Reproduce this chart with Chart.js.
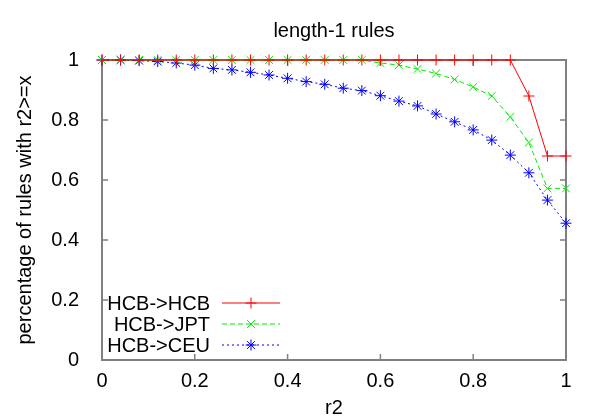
<!DOCTYPE html>
<html>
<head>
<meta charset="utf-8">
<script src="https://cdn.jsdelivr.net/npm/chart.js"></script>
<style>
  html, body { margin: 0; padding: 0; background: #fff; }
  #wrap { width: 600px; height: 420px; }
</style>
</head>
<body>
<div id="wrap"><canvas id="rulesChart" width="600" height="420"></canvas></div>
<script>
// values
const r2Values = [0, 0.04, 0.08, 0.12, 0.16, 0.2, 0.24, 0.28, 0.32, 0.36, 0.4, 0.44, 0.48,
  0.52, 0.56, 0.6, 0.64, 0.68, 0.72, 0.76, 0.8, 0.84, 0.88, 0.92, 0.96, 1];
const hcbHcb = [1, 1, 1, 1, 1, 1, 1, 1, 1, 1, 1, 1, 1, 1, 1, 1, 1, 1, 1, 1, 1, 1, 1,
  0.88, 0.68, 0.68];
const hcbJpt = [1, 1, 1, 1, 1, 1, 1, 1, 1, 1, 1, 1, 1, 1, 1, 0.99, 0.983, 0.97, 0.955,
  0.935, 0.91, 0.88, 0.81, 0.725, 0.572, 0.572];
const hcbCeu = [1, 1, 0.998, 0.995, 0.99, 0.983, 0.972, 0.967, 0.959, 0.95, 0.939, 0.928,
  0.919, 0.906, 0.898, 0.881, 0.863, 0.847, 0.82, 0.794, 0.767, 0.733, 0.683, 0.624,
  0.533, 0.456];
const seriesNames = ["HCB->HCB", "HCB->JPT", "HCB->CEU"];
const yTicks = [0, 0.2, 0.4, 0.6, 0.8, 1];
const xTicks = [0, 0.2, 0.4, 0.6, 0.8, 1];

const FONT = "'Liberation Sans', Arial, Helvetica, sans-serif";
const FONT_SIZE = 20;
const AXIS_GRAY = "#808080";

function toPoints(ys) {
  return ys.map((y, i) => ({ x: r2Values[i], y: y }));
}

// gnuplot style frame with inward ticks on all four sides
const framePlugin = {
  id: "frame",
  beforeDatasetsDraw(chart) {
    const { ctx, chartArea: a, scales } = chart;
    ctx.save();
    ctx.strokeStyle = AXIS_GRAY;
    ctx.lineWidth = 1.5;
    const len = 6;
    ctx.beginPath();
    xTicks.forEach((v) => {
      const px = scales.x.getPixelForValue(v);
      ctx.moveTo(px, a.bottom);
      ctx.lineTo(px, a.bottom - len);
      ctx.moveTo(px, a.top);
      ctx.lineTo(px, a.top + len);
    });
    yTicks.forEach((v) => {
      const py = scales.y.getPixelForValue(v);
      ctx.moveTo(a.left, py);
      ctx.lineTo(a.left + len, py);
      ctx.moveTo(a.right, py);
      ctx.lineTo(a.right - len, py);
    });
    ctx.stroke();
    ctx.lineWidth = 2;
    ctx.strokeRect(a.left, a.top, a.right - a.left, a.bottom - a.top);
    ctx.restore();
  },
};

// title centred over the plot area
const titlePlugin = {
  id: "plotTitle",
  afterDraw(chart) {
    const { ctx, chartArea: a } = chart;
    ctx.save();
    ctx.fillStyle = "#000";
    ctx.font = FONT_SIZE + "px " + FONT;
    ctx.textAlign = "center";
    ctx.textBaseline = "alphabetic";
    ctx.fillText("length-1 rules", (a.left + a.right) / 2, 37);
    ctx.restore();
  },
};

// gnuplot key: right aligned label, then line sample with marker
const keyPlugin = {
  id: "gnuKey",
  afterDraw(chart) {
    const { ctx } = chart;
    const textRight = 210, lineFrom = 222, lineTo = 280;
    const rowY = [303, 324, 345];
    ctx.save();
    chart.data.datasets.forEach((ds, i) => {
      const y = rowY[i];
      ctx.fillStyle = "#000";
      ctx.font = FONT_SIZE + "px " + FONT;
      ctx.textAlign = "right";
      ctx.textBaseline = "middle";
      ctx.fillText(ds.label, textRight, y + 1);

      ctx.strokeStyle = ds.borderColor;
      ctx.lineWidth = 1;
      ctx.setLineDash(ds.borderDash || []);
      ctx.beginPath();
      ctx.moveTo(lineFrom, y);
      ctx.lineTo(lineTo, y);
      ctx.stroke();
      ctx.setLineDash([]);
      Chart.helpers.drawPoint(ctx, {
        pointStyle: ds.pointStyle,
        radius: ds.pointRadius,
        borderWidth: 1,
        rotation: 0,
      }, (lineFrom + lineTo) / 2, y);
    });
    ctx.restore();
  },
};

const seriesColors = ["rgb(255,0,0)", "rgb(0,235,0)", "rgb(0,0,255)"];
const seriesStyles = ["cross", "crossRot", "star"];
const seriesDash = [[], [5, 3], [2, 3]];
const seriesData = [hcbHcb, hcbJpt, hcbCeu];

const datasets = seriesData.map((ys, i) => ({
  label: seriesNames[i],
  data: toPoints(ys),
  borderColor: seriesColors[i],
  backgroundColor: seriesColors[i],
  borderWidth: 1,
  borderDash: seriesDash[i],
  pointStyle: seriesStyles[i],
  pointRadius: 5.5,
  pointBorderWidth: 1,
  pointBorderColor: seriesColors[i],
  tension: 0,
  clip: false,
}));

const tickLabel = (v) => String(v);

const ctx = document.getElementById("rulesChart");
new Chart(ctx, {
  type: "line",
  data: { datasets: datasets },
  options: {
    responsive: false,
    animation: false,
    layout: { padding: { top: 60, right: 34, bottom: 0, left: 0 } },
    plugins: {
      legend: { display: false },
      tooltip: { enabled: false },
      title: { display: false },
    },
    scales: {
      x: {
        type: "linear",
        min: 0,
        max: 1,
        afterFit: (scale) => { scale.height = 60; },
        afterBuildTicks: (scale) => { scale.ticks = xTicks.map((v) => ({ value: v })); },
        grid: { display: false },
        border: { display: false },
        ticks: { color: "#000", font: { family: FONT, size: FONT_SIZE }, padding: 1, maxRotation: 0, callback: tickLabel },
        title: {
          display: true,
          text: "r2",
          color: "#000",
          font: { family: FONT, size: FONT_SIZE },
          padding: { top: 0, bottom: 0 },
        },
      },
      y: {
        min: 0,
        max: 1,
        afterFit: (scale) => { scale.width = 102; },
        afterBuildTicks: (scale) => { scale.ticks = yTicks.map((v) => ({ value: v })); },
        grid: { display: false },
        border: { display: false },
        ticks: { color: "#000", font: { family: FONT, size: FONT_SIZE }, padding: 15, callback: tickLabel },
        title: {
          display: true,
          text: "percentage of rules with r2>=x",
          color: "#000",
          font: { family: FONT, size: FONT_SIZE },
          padding: { top: 13, bottom: 0 },
        },
      },
    },
  },
  plugins: [framePlugin, titlePlugin, keyPlugin],
});
</script>
</body>
</html>
